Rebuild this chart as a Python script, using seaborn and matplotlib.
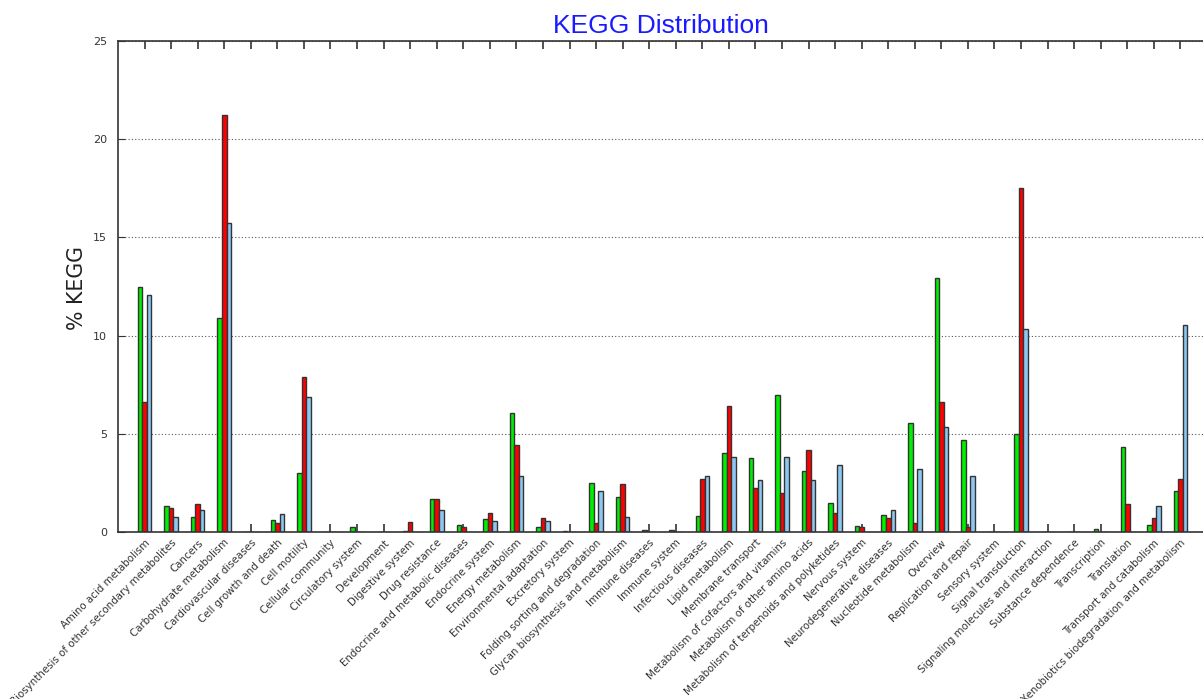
import matplotlib
matplotlib.use("Agg")
import matplotlib.pyplot as plt
import seaborn as sns
import pandas as pd

categories = [
    "Amino acid metabolism", "Biosynthesis of other secondary metabolites", "Cancers",
    "Carbohydrate metabolism", "Cardiovascular diseases", "Cell growth and death",
    "Cell motility", "Cellular community", "Circulatory system", "Development",
    "Digestive system", "Drug resistance", "Endocrine and metabolic diseases",
    "Endocrine system", "Energy metabolism", "Environmental adaptation",
    "Excretory system", "Folding sorting and degradation",
    "Glycan biosynthesis and metabolism", "Immune diseases", "Immune system",
    "Infectious diseases", "Lipid metabolism", "Membrane transport",
    "Metabolism of cofactors and vitamins", "Metabolism of other amino acids",
    "Metabolism of terpenoids and polyketides", "Nervous system",
    "Neurodegenerative diseases", "Nucleotide metabolism", "Overview",
    "Replication and repair", "Sensory system", "Signal transduction",
    "Signaling molecules and interaction", "Substance dependence", "Transcription",
    "Translation", "Transport and catabolism",
    "Xenobiotics biodegradation and metabolism",
]

green_vals = [12.45, 1.32, 0.77, 10.88, 0, 0.6, 3.0, 0, 0.24, 0,
              0.07, 1.7, 0.34, 0.66, 6.04, 0.24, 0.03, 2.48, 1.77, 0.1,
              0.1, 0.81, 4.04, 3.76, 7.0, 3.12, 1.49, 0.3, 0.87, 5.57,
              12.92, 4.68, 0, 4.99, 0, 0, 0.17, 4.31, 0.34, 2.07]
red_vals = [6.62, 1.24, 1.43, 21.23, 0, 0.48, 7.89, 0, 0, 0,
            0.49, 1.7, 0.24, 0.98, 4.43, 0.73, 0, 0.47, 2.44, 0,
            0, 2.7, 6.43, 2.25, 1.97, 4.17, 0.95, 0.25, 0.7, 0.48,
            6.62, 0.24, 0, 17.5, 0, 0, 0, 1.44, 0.7, 2.7]
blue_vals = [12.08, 0.78, 1.14, 15.73, 0, 0.92, 6.89, 0, 0, 0,
             0, 1.14, 0, 0.54, 2.85, 0.54, 0, 2.07, 0.78, 0,
             0, 2.85, 3.8, 2.65, 3.8, 2.65, 3.43, 0, 1.14, 3.2,
             5.36, 2.85, 0, 10.34, 0, 0, 0, 0, 1.32, 10.56]

series_names = ["Sample 1", "Sample 2", "Sample 3"]
series_colors = ["#00f000", "#ff0000", "#8cc8f2"]

df = pd.DataFrame({
    "category": categories * 3,
    "series": [s for s in series_names for _ in categories],
    "value": green_vals + red_vals + blue_vals,
})

fig = plt.figure(figsize=(12.03, 6.99), dpi=100)
ax = fig.add_axes([118 / 1203, 167 / 699, (1203 - 118) / 1203, 491 / 699])

sns.barplot(data=df, x="category", y="value", hue="series", order=categories,
            hue_order=series_names, palette=series_colors, saturation=1,
            width=0.51, edgecolor="#333333", linewidth=1.0, legend=False, ax=ax)

ax.set_xlim(-1, 39.85)
ax.set_ylim(0, 25)
ax.set_yticks([0, 5, 10, 15, 20, 25])
ax.yaxis.grid(True, linestyle=(0, (1, 2)), color="#555555", linewidth=0.8)
ax.set_axisbelow(True)

for side in ["left", "bottom", "top"]:
    ax.spines[side].set_color("#333333")
    ax.spines[side].set_linewidth(1.2)
ax.spines["right"].set_visible(False)

ax.tick_params(axis="x", top=True, bottom=True, direction="in", length=6,
               color="#333333", width=1.2, pad=4)
ax.tick_params(axis="y", direction="in", length=5, color="#333333",
               labelsize=8, labelcolor="#333333", pad=8)
ax.set_xticks(range(len(categories)))
ax.set_xticklabels(categories, rotation=45, ha="right", rotation_mode="anchor",
                   fontsize=7.4, color="#333333")

ax.set_xlabel("")
ax.set_ylabel("% KEGG", fontsize=14.8, color="#222222")
ax.yaxis.set_label_coords(-0.0283, 0.497)
ax.set_title("KEGG Distribution", fontsize=19, color="#1a1aff",
             family="Liberation Sans", pad=6)

fig.savefig("out.png", dpi=100)
